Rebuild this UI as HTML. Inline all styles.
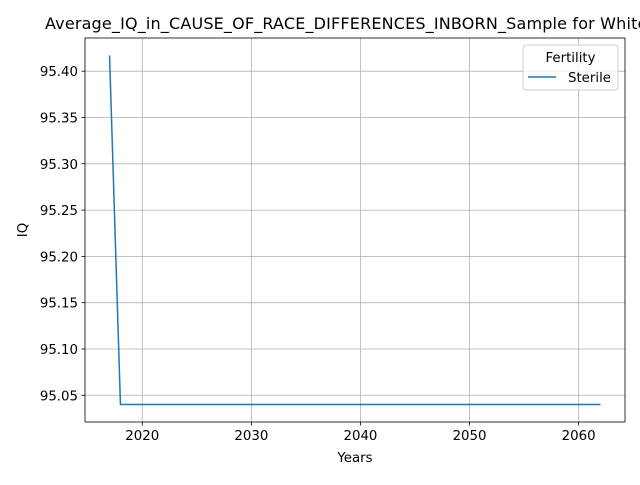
<!DOCTYPE html>
<html><head><meta charset="utf-8"><style>
body{margin:0;background:#fff;overflow:hidden;}
svg{font-family:"DejaVu Sans","Liberation Sans",sans-serif;}
</style></head><body>
<svg id="chart" width="640" height="480" viewBox="0 0 640 480">
<rect width="640" height="480" fill="#fff"/>
<g id="grid"></g>
<g id="ticks"></g>
<g id="series"></g>
<rect x="85" y="38" width="540" height="384" fill="none" stroke="#000" stroke-width="0.8"/>
<text x="45" y="29" font-size="16" letter-spacing="0.17">Average_IQ_in_CAUSE_OF_RACE_DIFFERENCES_INBORN_Sample for White</text>
<text x="355" y="462" font-size="13.33" text-anchor="middle">Years</text>
<text x="27" y="230" font-size="13.33" text-anchor="middle" transform="rotate(-90 27 230)">IQ</text>
<g>
<rect x="523" y="45" width="95" height="45" rx="3" fill="#fff" fill-opacity="0.8" stroke="#ccc"/>
<text x="570.5" y="62" font-size="13.33" text-anchor="middle">Fertility</text>
<line x1="528" y1="77" x2="556" y2="77" stroke="#1f77b4" stroke-width="1.5"/>
<text x="568" y="82" font-size="13.33">Sterile</text>
</g>
</svg>
<script>
const years=[2017,2018,2019,2020,2021,2022,2023,2024,2025,2026,2027,2028,2029,2030,2031,2032,2033,2034,2035,2036,2037,2038,2039,2040,2041,2042,2043,2044,2045,2046,2047,2048,2049,2050,2051,2052,2053,2054,2055,2056,2057,2058,2059,2060,2061,2062];
const iqValues=[95.417].concat(new Array(45).fill(95.04));
const xTicks=[2020,2030,2040,2050,2060];
const yTicks=[95.05,95.10,95.15,95.20,95.25,95.30,95.35,95.40];
const NS="http://www.w3.org/2000/svg";
const L=85,R=625,T=38,B=422;
const xmin=Math.min(...years),xmax=Math.max(...years),xm=(xmax-xmin)*0.05;
const ymin=Math.min(...iqValues),ymax=Math.max(...iqValues),ym=(ymax-ymin)*0.05;
const sx=v=>L+(v-(xmin-xm))/((xmax+xm)-(xmin-xm))*(R-L);
const sy=v=>B-(v-(ymin-ym))/((ymax+ym)-(ymin-ym))*(B-T);
function mk(tag,attrs,parent){const e=document.createElementNS(NS,tag);for(const k in attrs)e.setAttribute(k,attrs[k]);document.getElementById(parent).appendChild(e);return e;}
xTicks.forEach(t=>{const x=sx(t);
const g=mk('line',{x1:x,x2:x,y1:T,y2:B,stroke:'#b0b0b0','stroke-width':0.8},'grid');


const tk=mk('line',{x1:x,x2:x,y1:B,y2:B+3.5,stroke:'#000','stroke-width':0.8},'ticks');


const tx=mk('text',{x:x,y:B+18,'font-size':13.33,'text-anchor':'middle'},'ticks');tx.textContent=t;

});
yTicks.forEach(t=>{const y=sy(t);
const g=mk('line',{x1:L,x2:R,y1:y,y2:y,stroke:'#b0b0b0','stroke-width':0.8},'grid');


const tk=mk('line',{x1:L-3.5,x2:L,y1:y,y2:y,stroke:'#000','stroke-width':0.8},'ticks');


const tx=mk('text',{x:L-7,y:y+5,'font-size':13.33,'text-anchor':'end'},'ticks');tx.textContent=t.toFixed(2);

});
const pts=years.map((y,i)=>sx(y).toFixed(2)+','+sy(iqValues[i]).toFixed(2)).join(' ');
const pl=mk('polyline',{points:pts,fill:'none',stroke:'#1f77b4','stroke-width':1.5},'series');


</script>
</body></html>
